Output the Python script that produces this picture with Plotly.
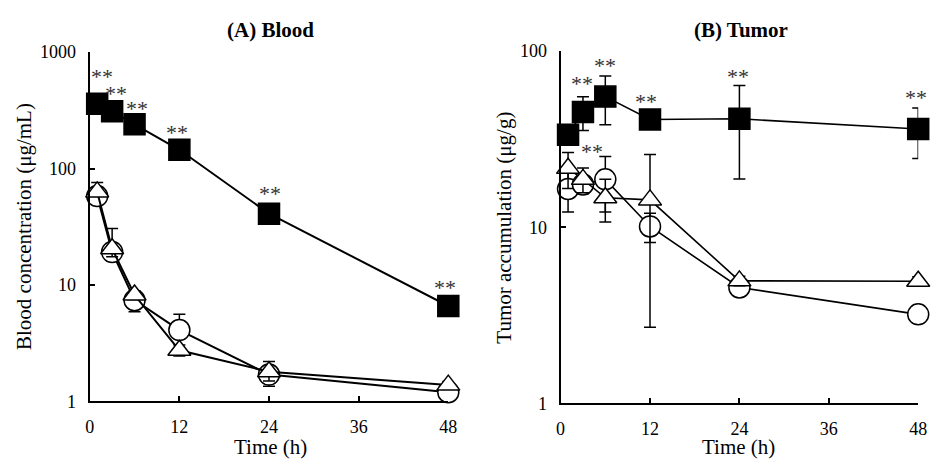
import plotly.graph_objects as go
import math

time_h = [1, 3, 6, 12, 24, 48]

blood_square = [360, 310, 240, 145, 41, 6.6]
blood_square_err = [15, 15, 12, 8, 3, 0.5]
blood_circle = [58, 19.2, 7.4, 4.1, 1.7, 1.2]
blood_circle_err_up = [8, 3, 1.0, 1.5, 0.3, 0.1]
blood_circle_err_dn = [8, 3, 1.5, 0.5, 0.35, 0.1]
blood_triangle = [63, 20.5, 8.2, 2.75, 1.8, 1.38]
blood_triangle_err_up = [13, 10, 0.7, 0.3, 0.4, 0.1]
blood_triangle_err_dn = [5, 3, 0.7, 0.3, 0.3, 0.1]

tumor_square = [33.5, 45.2, 55.2, 40.9, 41.3, 36.1]
tumor_square_err = [3, 9.8, 17, 3, 22.5, 11.5]
tumor_circle = [16.5, 17.5, 18.7, 10.1, 4.55, 3.2]
tumor_circle_err = [4.3, 2, 6.5, 1.9, 0.3, 0.3]
tumor_triangle = [21.6, 18.7, 14.7, 14.3, 4.96, 4.93]
tumor_triangle_err = [5, 3, 4, 11.6, 0.3, 0.3]

x_ticks = [0, 12, 24, 36, 48]
blood_yticks = [1, 10, 100, 1000]
tumor_yticks = [1, 10, 100]

# significance marks: (time, series value) pairs
blood_sig = list(zip(time_h, blood_square))
tumor_sig = list(zip(time_h[1:], tumor_square[1:])) + [(time_h[1], tumor_triangle[1])]

FONT = "Liberation Serif"
W, H = 941, 465

def fx(px):
    return px / W

def fy(py):
    return 1 - py / H

fig = go.Figure()

def add_series(xaxis, yaxis, y, err_up, err_dn, symbol, fill, lw):
    fig.add_trace(go.Scatter(
        x=time_h, y=y, xaxis=xaxis, yaxis=yaxis, mode="lines+markers",
        line=dict(color="black", width=lw),
        marker=dict(symbol=symbol, size=21 if symbol != "triangle-up" else 20,
                    color=fill, line=dict(color="black", width=1.5)),
        error_y=dict(type="data", array=err_up, arrayminus=err_dn, symmetric=False,
                     color="black", thickness=1.5, width=6),
        cliponaxis=False, showlegend=False))

add_series("x", "y", blood_circle, blood_circle_err_up, blood_circle_err_dn, "circle", "white", 2)
add_series("x", "y", blood_triangle, blood_triangle_err_up, blood_triangle_err_dn, "triangle-up", "white", 2)
add_series("x", "y", blood_square, blood_square_err, blood_square_err, "square", "black", 2)
add_series("x2", "y2", tumor_circle, tumor_circle_err, tumor_circle_err, "circle", "white", 1.6)
add_series("x2", "y2", tumor_triangle, tumor_triangle_err, tumor_triangle_err, "triangle-up", "white", 1.6)
add_series("x2", "y2", tumor_square, tumor_square_err, tumor_square_err, "square", "black", 1.6)

axis_common = dict(showline=True, linecolor="black", linewidth=2, ticks="inside",
                   ticklen=5, tickwidth=1.5, tickcolor="black", showgrid=False,
                   zeroline=False, tickfont=dict(family=FONT, size=18, color="black"))

fig.update_layout(
    width=W, height=H, margin=dict(l=0, r=0, t=0, b=0),
    paper_bgcolor="white", plot_bgcolor="white",
    xaxis=dict(domain=[fx(86), fx(450)], range=[0, 48], tickvals=x_ticks,
               anchor="y", ticklabelstandoff=8, **axis_common),
    yaxis=dict(domain=[fy(409), fy(44)], type="log", range=[0, 3],
               tickvals=blood_yticks, ticktext=[str(v) for v in blood_yticks],
               anchor="x", ticklabelstandoff=8, **axis_common),
    xaxis2=dict(domain=[fx(564), fx(927)], range=[0, 48], tickvals=x_ticks,
                anchor="y2", ticklabelstandoff=8, **axis_common),
    yaxis2=dict(domain=[fy(411), fy(43)], type="log", range=[0, 2],
                tickvals=tumor_yticks, ticktext=[str(v) for v in tumor_yticks],
                anchor="x2", ticklabelstandoff=8, **axis_common),
)

ann = []
def text(x, y, s, size=17, bold=False, angle=0):
    ann.append(dict(x=fx(x), y=fy(y), xref="paper", yref="paper",
                    text=f"<b>{s}</b>" if bold else s,
                    showarrow=False, textangle=angle, xanchor="center", yanchor="middle",
                    font=dict(family=FONT, size=size, color="black")))

text(270, 21, "(A) Blood", 21, True)
text(747, 21, "(B) Tumor", 21, True)
text(270, 457, "Time (h)", 21)
text(745, 457, "Time (h)", 21)
text(20, 226, "Blood concentration (μg/mL)", 21, angle=-90)
text(507, 227, "Tumor accumulation (μg/g)", 21, angle=-90)

blood_shift = [(4.5, 33), (3.5, 24), (2.5, 21.5), (-2, 23), (1, 26), (-3, 24)]
tumor_shift = [(-1, 34), (0, 37.5), (-4, 24.5), (-1, 48.5), (-2, 37.5), (9, 34)]
STAR_CORR = -6
for (t, v), (dx, dy) in zip(blood_sig, blood_shift):
    ann.append(dict(x=t, y=math.log10(v), xref="x", yref="y", text="**", showarrow=False,
                    xshift=dx, yshift=dy + STAR_CORR, font=dict(family=FONT, size=22, color="#333")))
for (t, v), (dx, dy) in zip(tumor_sig, tumor_shift):
    ann.append(dict(x=t, y=math.log10(v), xref="x2", yref="y2", text="**", showarrow=False,
                    xshift=dx, yshift=dy + STAR_CORR, font=dict(family=FONT, size=22, color="#333")))

fig.update_layout(annotations=ann)
fig.write_html("out.html")
